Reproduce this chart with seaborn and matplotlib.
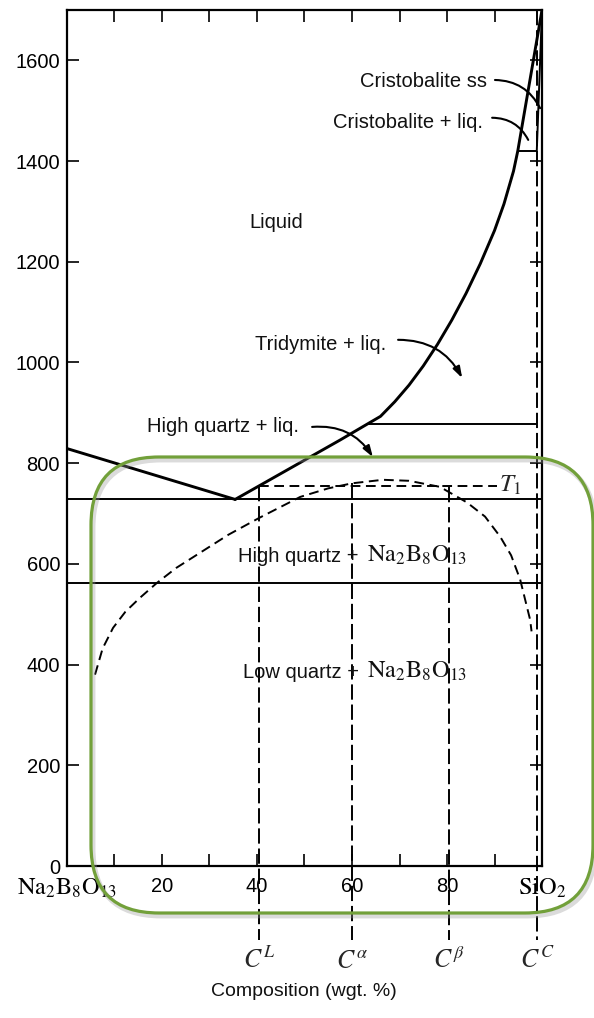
import matplotlib
matplotlib.use("Agg")
import matplotlib.pyplot as plt
from matplotlib.patches import FancyBboxPatch
from matplotlib.transforms import IdentityTransform
import pandas as pd
import seaborn as sns

sns.set_theme(style="ticks")
plt.rcParams["font.family"] = ["Liberation Sans", "DejaVu Sans"]
plt.rcParams["mathtext.fontset"] = "stix"
plt.rcParams["lines.scale_dashes"] = False

# ---- phase boundaries (composition in wt.% SiO2, temperature in deg C) ----
liq_left_x = [0.0, 35.4]
liq_left_T = [829, 728]

liq_right_x = [35.4, 57.5, 63.1, 66.0, 69.0, 72.0, 75.0, 78.0, 81.0, 84.0,
               87.0, 90.0, 92.0, 94.0, 94.9, 100.0]
liq_right_T = [728, 846, 877, 893, 922, 955, 993, 1036, 1084, 1137,
               1196, 1262, 1315, 1380, 1420, 1700]

cristo_ss_x = [98.9, 100.0]
cristo_ss_T = [1420, 1700]

eutectic_T = 728
quartz_T = 563
tridymite_T = 877
tridymite_start = 63.1
cristo_T = 1420
cristo_start = 94.9

# metastable (T0) curve, dashed
t0_x = [5.9, 7.5, 9.7, 12.3, 15.4, 18.9, 23.0, 28.0, 34.0, 40.6, 49.1, 55.0,
        60.0, 66.5, 72.0, 78.5, 84.2, 88.0, 91.2, 93.5, 95.4, 97.5, 97.8]
t0_T = [380, 432, 473, 505, 533, 562, 592, 622, 658, 692, 733, 750,
        760, 767, 765, 753, 722, 694, 654, 617, 569, 489, 466]

T1 = 755
T1_span = [40.4, 90.5]

comp_names = [r"$C^L$", r"$C^\alpha$", r"$C^\beta$", r"$C^C$"]
comp_x = [40.4, 60.0, 80.4, 98.9]
comp_top = [755, 760, 752, 1700]

xtick_vals = [0, 20, 40, 60, 80, 100]
xtick_labels = [r"$\mathrm{Na_2B_8O_{13}}$", "20", "40", "60", "80", r"$\mathrm{SiO_2}$"]
xminor_vals = [10, 30, 50, 70, 90]
ytick_vals = [0, 200, 400, 600, 800, 1000, 1200, 1400, 1600]

# ---- figure ----
fig = plt.figure(figsize=(5.94, 10.18), dpi=100)
ax = fig.add_axes([0.11279, 0.14931, 0.79967, 0.84087])
ax.set_xlim(0, 100)
ax.set_ylim(0, 1700)

thick = 2.1
thin = 1.4
dash_curve = (0, (7, 4))

liq_left = pd.DataFrame({"x": liq_left_x, "T": liq_left_T})
liq_right = pd.DataFrame({"x": liq_right_x, "T": liq_right_T})
t0 = pd.DataFrame({"x": t0_x, "T": t0_T})

sns.lineplot(data=liq_left, x="x", y="T", sort=False, estimator=None,
             color="black", lw=thick, ax=ax)
sns.lineplot(data=liq_right, x="x", y="T", sort=False, estimator=None,
             color="black", lw=thick, ax=ax)
sns.lineplot(x=cristo_ss_x, y=cristo_ss_T, sort=False, estimator=None,
             color="black", lw=thin, ax=ax)
sns.lineplot(data=t0, x="x", y="T", sort=False, estimator=None,
             color="black", lw=thin, linestyle=dash_curve, ax=ax)

ax.hlines([eutectic_T, quartz_T], 0, 100, color="black", lw=thin)
ax.hlines(tridymite_T, tridymite_start, comp_x[-1], color="black", lw=thin)
ax.hlines(cristo_T, cristo_start, comp_x[-1], color="black", lw=thin)
ax.hlines(T1, T1_span[0], T1_span[1], color="black", lw=thin,
          linestyle=dash_curve)

for name, x, top in zip(comp_names, comp_x, comp_top):
    ax.plot([x, x], [top, -147], color="black", lw=thin,
            linestyle=(0, (11, 3.5)), clip_on=False)
    ax.text(x, -203, name, ha="center", va="baseline", fontsize=18.5,
            clip_on=False)

ax.text(91.0, 743, r"$T_1$", ha="left", va="baseline", fontsize=18)

# ---- region labels ----
lab = dict(fontsize=14.5, color="#111111")
formula = r"$\mathrm{Na_2B_8O_{13}}$"
ax.text(38.5, 1267, "Liquid", ha="left", va="baseline", **lab)
ax.text(39.6, 1025, "Tridymite + liq.", ha="left", va="baseline", **lab)
ax.text(16.8, 862, "High quartz + liq.", ha="left", va="baseline", **lab)
ax.text(88.4, 1547, "Cristobalite ss", ha="right", va="baseline", **lab)
ax.text(87.6, 1466, "Cristobalite + liq.", ha="right", va="baseline", **lab)
ax.text(61.4, 604, "High quartz +", ha="right", va="baseline", **lab)
ax.text(63.2, 604, formula, ha="left", va="baseline", fontsize=17.5,
        color="#111111")
ax.text(61.4, 373, "Low quartz +", ha="right", va="baseline", **lab)
ax.text(63.2, 373, formula, ha="left", va="baseline", fontsize=17.5,
        color="#111111")

arrow_specs = [
    ((69.7, 1045), (83.2, 969), "-|>,head_length=0.55,head_width=0.18"),
    ((51.6, 872), (64.4, 812), "-|>,head_length=0.55,head_width=0.18"),
    ((90.1, 1561), (99.6, 1505), "-"),
    ((89.5, 1486), (97.1, 1442), "-"),
]
for start, end, style in arrow_specs:
    ax.annotate("", xy=end, xytext=start,
                arrowprops=dict(arrowstyle=style, color="black", lw=1.5,
                                connectionstyle="arc3,rad=-0.3",
                                shrinkA=0, shrinkB=0))

# ---- axes styling ----
ax.set_xticks(xtick_vals)
ax.set_xticklabels(xtick_labels)
ax.set_xticks(xminor_vals, minor=True)
ax.set_yticks(ytick_vals)
ax.set_yticklabels([str(v) for v in ytick_vals])
ax.tick_params(which="both", direction="in", length=8.5, width=1.2,
               top=True, right=True, labeltop=False, labelright=False,
               colors="black", labelsize=14.5)
ax.tick_params(axis="x", pad=8)
ax.tick_params(axis="y", pad=5)
for lbl in ax.get_xticklabels():
    if "$" in lbl.get_text():
        lbl.set_fontsize(17.5)
ax.set_xlabel("")
ax.set_ylabel("")
for sp in ax.spines.values():
    sp.set_visible(True)
    sp.set_linewidth(1.6)
    sp.set_color("black")

fig.text(304 / 594, 1 - 992 / 1018, "Composition (wgt. %)", ha="center",
         va="center", fontsize=14, color="#111111")

# ---- highlight frame (pixel coordinates, origin bottom-left) ----
H = 1018
box_l, box_r, box_t, box_b = 91, 593, 457, 913
shadow = FancyBboxPatch((box_l + 2, H - box_b - 3), box_r - box_l, box_b - box_t,
                        boxstyle="round,pad=0,rounding_size=68",
                        transform=IdentityTransform(), fill=False,
                        edgecolor="#999999", lw=3.5, alpha=0.35)
frame = FancyBboxPatch((box_l, H - box_b), box_r - box_l, box_b - box_t,
                       boxstyle="round,pad=0,rounding_size=68",
                       transform=IdentityTransform(), fill=False,
                       edgecolor="#72a03a", lw=2.3)
fig.patches.extend([shadow, frame])

fig.savefig("out.png", dpi=100, facecolor="white")
